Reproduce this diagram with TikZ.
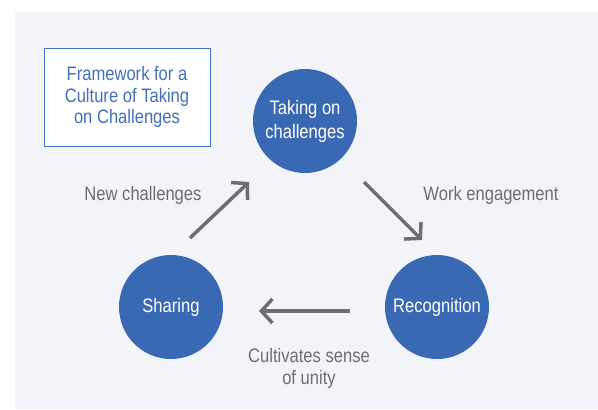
\documentclass[tikz,border=0pt]{standalone}
\usepackage{fontspec}
\setmainfont{Liberation Sans}[FakeStretch=0.85]
\usetikzlibrary{arrows.meta}
\definecolor{panelbg}{HTML}{F3F4F9}
\definecolor{stageblue}{HTML}{3A69B3}
\definecolor{boxblue}{HTML}{4270BA}
\definecolor{flowgray}{HTML}{6E6E6E}
\tikzset{
  stage/.style={
    circle,
    fill=stageblue,
    minimum size=104pt,
    inner sep=0pt,
    text=white,
    align=center,
    font=\fontsize{19.5}{24}\selectfont
  },
  titlebox/.style={
    rectangle,
    draw=boxblue,
    fill=white,
    line width=1pt,
    minimum width=166pt,
    minimum height=98pt,
    inner sep=0pt,
    text=boxblue,
    align=center,
    font=\fontsize{19.5}{21.5}\selectfont
  },
  flow/.style={
    draw=flowgray,
    line width=3.5pt,
    -{Straight Barb[length=11pt,width=24pt]}
  },
  flowlabel/.style={
    text=flowgray,
    align=center,
    font=\fontsize{19.5}{22}\selectfont
  }
}

\begin{document}
\begin{tikzpicture}[x=1pt, y=-1pt]
  \useasboundingbox (0,0) rectangle (598,410);
  % panel
  \fill[panelbg] (15,12) rectangle (598,409);

  % title
  \node[titlebox] (title) at (127,97) {Framework for a\\Culture of Taking\\on Challenges};

  % stages
  \node[stage] (taking) at (305,121) {Taking on\\challenges};
  \node[stage] (sharing) at (171,307) {Sharing};
  \node[stage] (recog) at (437,307) {Recognition};

  % arrow ends
  \coordinate (new-from) at (190,238);
  \coordinate (new-to) at (249,182);
  \coordinate (work-from) at (364,182);
  \coordinate (work-to) at (422,240);
  \coordinate (unity-from) at (350,311);
  \coordinate (unity-to) at (259,311);

  \draw[flow] (new-from) -- (new-to);
  \draw[flow] (work-from) -- (work-to);
  \draw[flow] (unity-from) -- (unity-to);

  % labels
  \node[flowlabel] (new-lbl) at (143,195) {New challenges};
  \node[flowlabel] (work-lbl) at (491,195) {Work engagement};
  \node[flowlabel] (unity-lbl) at (309,368) {Cultivates sense\\of unity};
\end{tikzpicture}
\end{document}
